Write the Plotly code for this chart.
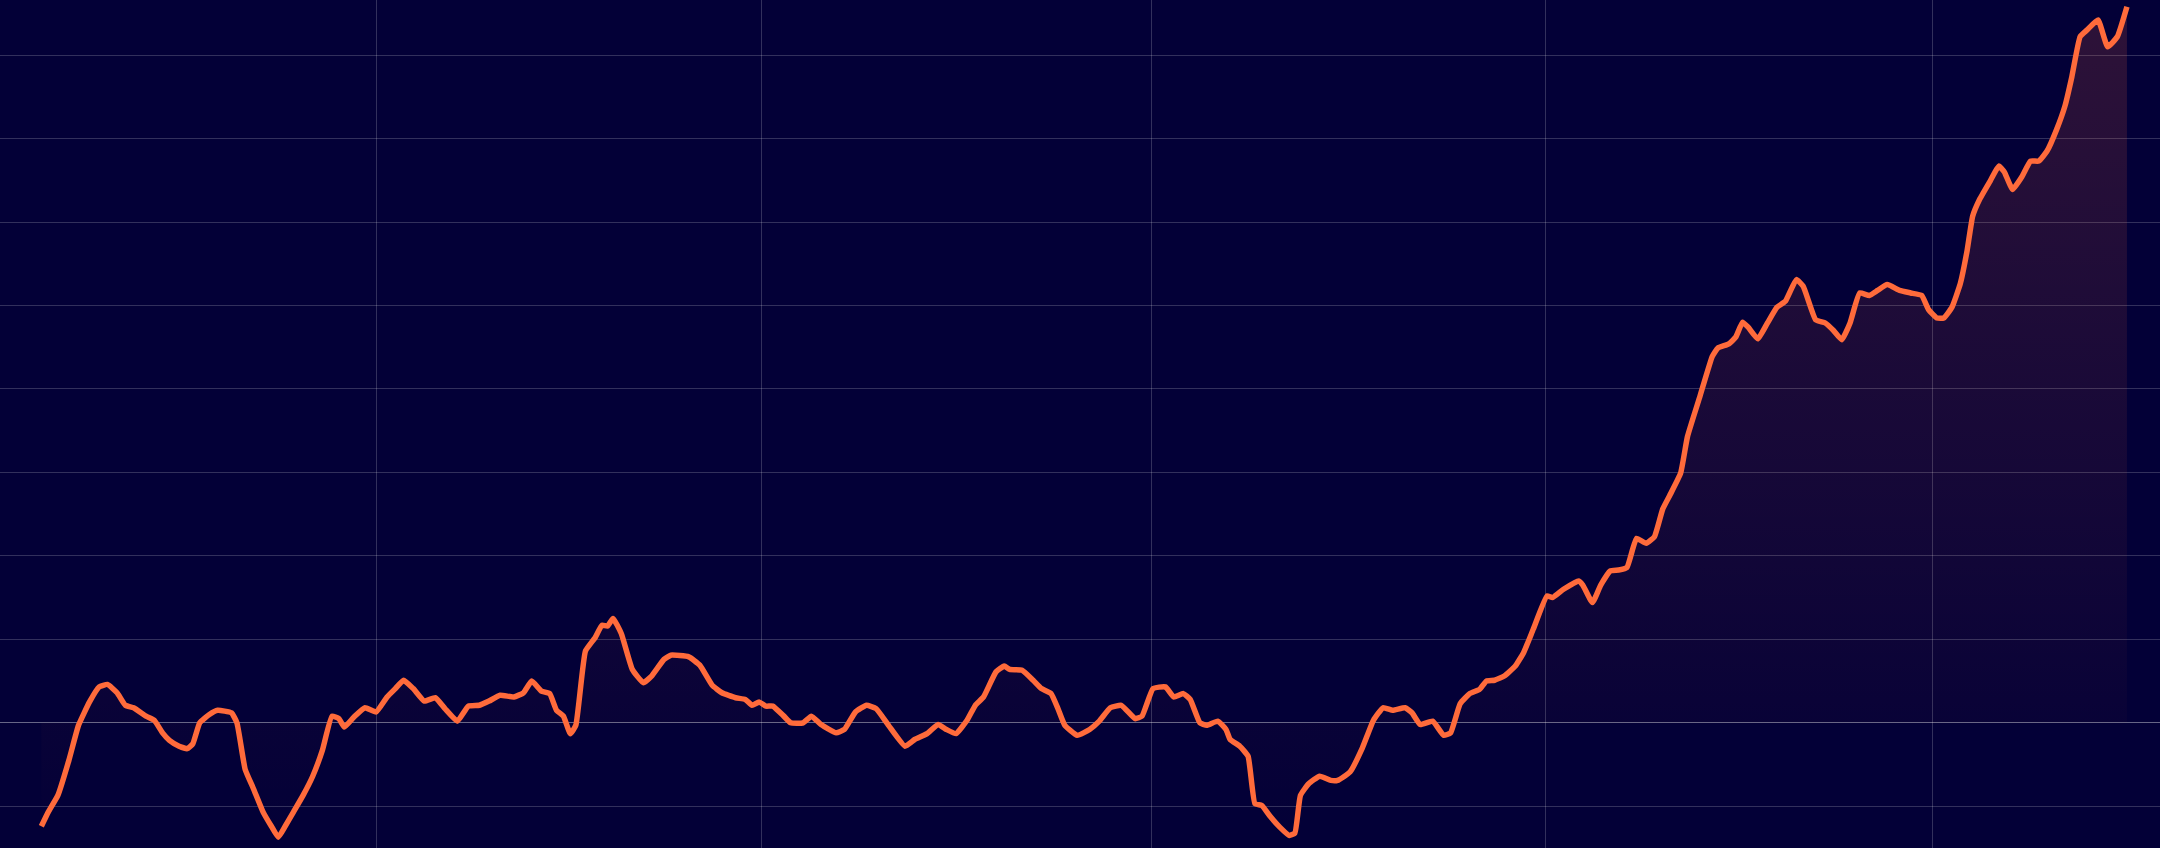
import plotly.graph_objects as go

# horizontal position of each reading (time index)
t = [30, 35, 42, 50, 57, 65, 72, 78, 85, 91,
     97, 106, 112, 118, 123, 130, 136, 140, 145, 152,
     158, 168, 172, 178, 184, 191, 197, 202, 207, 213,
     220, 227, 234, 241, 246, 250, 257, 265, 273, 281,
     287, 293, 300, 308, 316, 323, 332, 340, 348, 355,
     363, 373, 380, 386, 393, 399, 404, 409, 414, 418,
     425, 432, 437, 441, 445, 451, 459, 467, 473, 482,
     487, 500, 508, 517, 524, 534, 541, 546, 551, 556,
     561, 569, 574, 583, 589, 596, 607, 613, 621, 629,
     636, 645, 657, 664, 673, 681, 687, 694, 702, 708,
     714, 723, 729, 733, 742, 750, 756, 763, 768, 773,
     782, 791, 798, 806, 814, 824, 829, 837, 846, 852,
     859, 864, 871, 876, 884, 890, 893, 900, 906, 911,
     916, 922, 929, 936, 940, 944, 950, 958, 966, 971,
     980, 989, 997, 1004, 1011, 1020, 1025, 1031, 1040, 1048,
     1053, 1060, 1067, 1074, 1079, 1085, 1092, 1100, 1106, 1113,
     1123, 1127, 1135, 1146, 1149, 1156, 1162, 1169, 1175, 1181,
     1188, 1195, 1201, 1207, 1212, 1220, 1225, 1234, 1243, 1247,
     1255, 1260, 1265, 1269, 1276, 1283, 1290, 1296, 1304, 1309,
     1318, 1325, 1331, 1337, 1343, 1350, 1357, 1363, 1370, 1379,
     1387, 1395, 1400, 1406, 1411, 1417, 1423, 1428, 1432, 1437,
     1445, 1451, 1455, 1461, 1468, 1474, 1480, 1486, 1493, 1499,
     1504, 1510, 1515, 1523, 1530, 1537, 1544]

# series values
v = [-124, -107, -87, -45, -3, 25, 43, 46, 36, 21,
     18, 8, 3, -12, -21, -28, -31, -25, 0, 10,
     15, 12, 0, -56, -79, -107, -124, -137, -124, -107,
     -87, -64, -33, 8, 5, -5, 7, 18, 13, 31,
     41, 51, 41, 26, 30, 17, 2, 20, 21, 26,
     33, 31, 36, 50, 38, 35, 15, 8, -13, -3,
     86, 102, 117, 116, 125, 107, 64, 48, 56, 76,
     81, 79, 69, 45, 36, 30, 28, 21, 25, 20,
     20, 8, 0, 0, 8, -2, -12, -8, 13, 21,
     17, -3, -28, -20, -13, -2, -8, -13, 3, 21,
     31, 61, 68, 64, 63, 51, 41, 35, 17, -3,
     -15, -8, 2, 18, 21, 5, 8, 41, 43, 31,
     35, 28, 0, -3, 2, -8, -20, -28, -40, -97,
     -99, -112, -125, -135, -132, -87, -73, -64, -69, -69,
     -59, -30, 3, 18, 15, 18, 12, -2, 2, -15,
     -12, 23, 35, 40, 50, 51, 56, 68, 84, 112,
     152, 150, 160, 170, 165, 144, 165, 182, 183, 186,
     221, 215, 223, 256, 272, 299, 343, 391, 439, 449,
     454, 462, 480, 474, 460, 479, 498, 505, 531, 523,
     483, 479, 470, 459, 479, 515, 512, 518, 525, 518,
     515, 512, 495, 485, 485, 498, 526, 566, 607, 627,
     650, 667, 660, 639, 655, 673, 673, 685, 711, 739,
     774, 822, 830, 842, 810, 822, 858]

x_grid = [273, 553, 836, 1122, 1403]

BG = "#030037"
LINE = "#ff6b3b"

fig = go.Figure()
fig.add_trace(go.Scatter(
    x=t, y=v,
    mode="lines",
    line=dict(color=LINE, width=5.5, shape="spline", smoothing=0.4),
    fill="tozeroy",
    fillgradient=dict(
        type="vertical",
        colorscale=[[0, "rgba(255,107,61,0)"], [1, "rgba(255,107,61,0.17)"]],
    ),
    hoverinfo="skip",
    showlegend=False,
))

fig.update_layout(
    width=2160, height=848,
    margin=dict(l=0, r=0, t=0, b=0),
    paper_bgcolor=BG, plot_bgcolor=BG,
    showlegend=False,
)
fig.update_xaxes(
    range=[0, 1568], tickmode="array", tickvals=x_grid,
    showgrid=True, gridcolor="rgba(255,255,255,0.19)", gridwidth=1,
    showticklabels=False, zeroline=False, showline=False, ticks="",
)
fig.update_yaxes(
    range=[-150, 866], tick0=0, dtick=100,
    showgrid=True, gridcolor="rgba(255,255,255,0.19)", gridwidth=1,
    zeroline=True, zerolinecolor="rgba(255,255,255,0.4)", zerolinewidth=1,
    showticklabels=False, showline=False, ticks="",
)

fig.write_html(
    "out.html",
    config={"displayModeBar": False},
    post_script=(
        "document.body.style.margin='0';"
        "document.body.style.padding='0';"
        "document.body.style.overflow='hidden';"
        "document.body.style.background='" + BG + "';"
    ),
)
